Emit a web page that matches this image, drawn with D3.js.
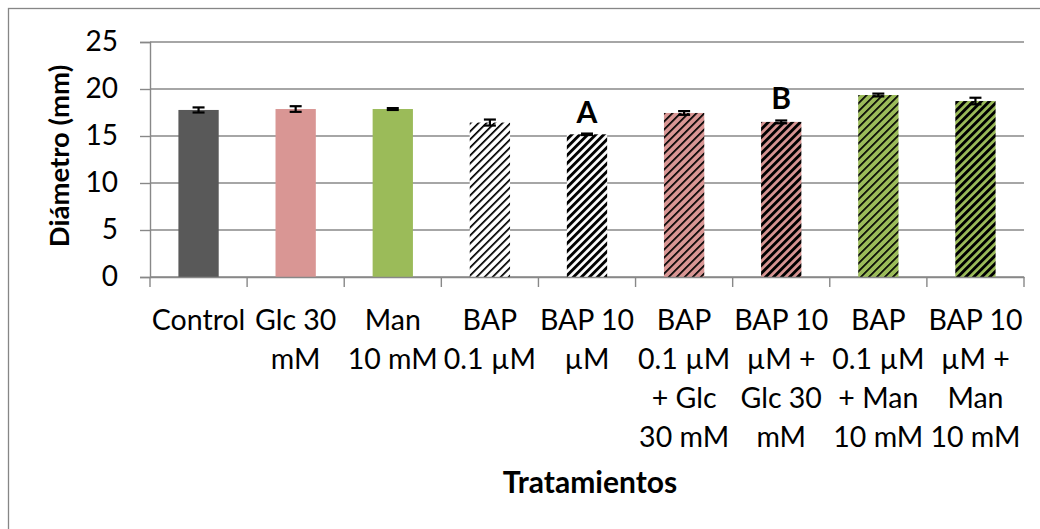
<!DOCTYPE html>
<html>
<head>
<meta charset="utf-8">
<script src="https://cdn.jsdelivr.net/npm/d3@7/dist/d3.min.js"></script>
<style>
  html, body { margin: 0; padding: 0; background: #fff; }
  svg { display: block; font-family: Lato, "Open Sans", sans-serif; }
</style>
</head>
<body>
<svg id="chart" width="1040" height="529"></svg>
<script>
// Treatments and measured stem diameter (mm), mean ± error
const categories = [
  "Control", "Glc 30 mM", "Man 10 mM", "BAP 0.1 µM", "BAP 10 µM",
  "BAP 0.1 µM + Glc 30 mM", "BAP 10 µM + Glc 30 mM",
  "BAP 0.1 µM + Man 10 mM", "BAP 10 µM + Man 10 mM"
];
const tickLines = [
  ["Control"], ["Glc 30", "mM"], ["Man", "10 mM"], ["BAP", "0.1 µM"], ["BAP 10", "µM"],
  ["BAP", "0.1 µM", "+ Glc", "30 mM"], ["BAP 10", "µM +", "Glc 30", "mM"],
  ["BAP", "0.1 µM", "+ Man", "10 mM"], ["BAP 10", "µM +", "Man", "10 mM"]
];
const values = [17.77, 17.87, 17.87, 16.43, 15.18, 17.45, 16.5, 19.36, 18.72];
const errors = [0.27, 0.30, 0.10, 0.32, 0.08, 0.20, 0.15, 0.15, 0.35];
const letters = ["", "", "", "", "A", "", "B", "", ""];
const yTicks = [0, 5, 10, 15, 20, 25];

// Fill style per treatment: base colour plus optional diagonal hatch
const baseColors = ["#595959", "#d99694", "#9bbb59", "#ffffff", "#ffffff", "#d99694", "#d99694", "#9bbb59", "#9bbb59"];
const hatch = [null, null, null, "light", "dark", "light", "dark", "light", "dark"];

const svg = d3.select("#chart");
const plotLeft = 150, plotRight = 1024, plotTop = 42, plotBottom = 277;

const x = d3.scaleBand().domain(categories).range([plotLeft, plotRight]).paddingInner(0.585).paddingOuter(0.2925);
const y = d3.scaleLinear().domain([0, 25]).range([plotBottom, plotTop]);

// Outer chart frame
svg.append("rect")
  .attr("x", 8.5).attr("y", 8.5).attr("width", 1100).attr("height", 600)
  .attr("fill", "none").attr("stroke", "#868686").attr("stroke-width", 1.3);

// Hatch patterns
const defs = svg.append("defs");
categories.forEach((c, i) => {
  if (!hatch[i]) return;
  const p = defs.append("pattern")
    .attr("id", "hatch" + i)
    .attr("patternUnits", "userSpaceOnUse")
    .attr("width", 5.66).attr("height", 5.66)
    .attr("patternTransform", "rotate(45)");
  p.append("rect").attr("width", 5.66).attr("height", 5.66).attr("fill", baseColors[i]);
  p.append("rect").attr("width", hatch[i] === "dark" ? 2.9 : 1.7).attr("height", 5.66).attr("fill", "#000");
});

// Horizontal gridlines
svg.append("g")
  .selectAll("line").data(yTicks).join("line")
  .attr("x1", plotLeft).attr("x2", plotRight)
  .attr("y1", d => y(d)).attr("y2", d => y(d))
  .attr("stroke", "#888").attr("stroke-width", 1.4);

// Y axis
const yAxis = svg.append("g")
  .attr("transform", `translate(${plotLeft},0)`)
  .call(d3.axisLeft(y).tickValues(yTicks).tickSize(10).tickPadding(22));
yAxis.select(".domain").attr("stroke", "#888").attr("stroke-width", 1.4);
yAxis.selectAll(".tick line").attr("stroke", "#888").attr("stroke-width", 1.4);
yAxis.selectAll(".tick text").attr("font-size", 28).attr("fill", "#000").attr("font-family", "Lato");

// Bars
svg.append("g")
  .selectAll("rect").data(categories).join("rect")
  .attr("x", d => x(d))
  .attr("width", x.bandwidth())
  .attr("y", (d, i) => y(values[i]))
  .attr("height", (d, i) => y(0) - y(values[i]))
  .attr("fill", (d, i) => hatch[i] ? `url(#hatch${i})` : baseColors[i]);

// X axis
const xAxis = svg.append("g")
  .attr("transform", `translate(0,${plotBottom})`)
  .call(d3.axisBottom(x).tickSize(0).tickFormat(""));
xAxis.select(".domain").attr("stroke", "#888").attr("stroke-width", 1.4);
const bounds = [plotLeft].concat(categories.map(c => x(c) + x.bandwidth() + x.step() * 0.585 / 2));
svg.append("g").selectAll("line").data(bounds).join("line")
  .attr("x1", d => d).attr("x2", d => d)
  .attr("y1", plotBottom).attr("y2", plotBottom + 10)
  .attr("stroke", "#888").attr("stroke-width", 1.4);

// Error bars
const eb = svg.append("g").attr("stroke", "#000").attr("stroke-width", 2.2);
categories.forEach((c, i) => {
  const cx = x(c) + x.bandwidth() / 2;
  const y1 = y(values[i] + errors[i]), y0 = y(values[i] - errors[i]);
  eb.append("line").attr("x1", cx).attr("x2", cx).attr("y1", y1).attr("y2", y0);
  eb.append("line").attr("x1", cx - 6).attr("x2", cx + 6).attr("y1", y1).attr("y2", y1);
  eb.append("line").attr("x1", cx - 6).attr("x2", cx + 6).attr("y1", y0).attr("y2", y0);
});

// Significance letters
svg.append("g").selectAll("text").data(categories).join("text")
  .attr("x", d => x(d) + x.bandwidth() / 2)
  .attr("y", (d, i) => y(values[i] + errors[i]) - 11)
  .attr("text-anchor", "middle")
  .attr("font-size", 30).attr("font-weight", "bold")
  .text((d, i) => letters[i]);

// Category labels (wrapped)
const lab = svg.append("g").attr("font-size", 28.5).attr("text-anchor", "middle");
categories.forEach((c, i) => {
  const t = lab.append("text").attr("x", x(c) + x.bandwidth() / 2).attr("y", 330);
  tickLines[i].forEach((line, k) => {
    t.append("tspan").attr("x", x(c) + x.bandwidth() / 2).attr("y", 330 + k * 39).text(line);
  });
});

// Axis titles
svg.append("text")
  .attr("x", (plotLeft + plotRight) / 2 + 3).attr("y", 493)
  .attr("text-anchor", "middle").attr("font-size", 30).attr("font-weight", "bold")
  .text("Tratamientos");

svg.append("text")
  .attr("transform", "translate(69,156) rotate(-90)")
  .attr("text-anchor", "middle").attr("font-size", 27.5).attr("font-weight", "bold")
  .text("Diámetro (mm)");
</script>
</body>
</html>
